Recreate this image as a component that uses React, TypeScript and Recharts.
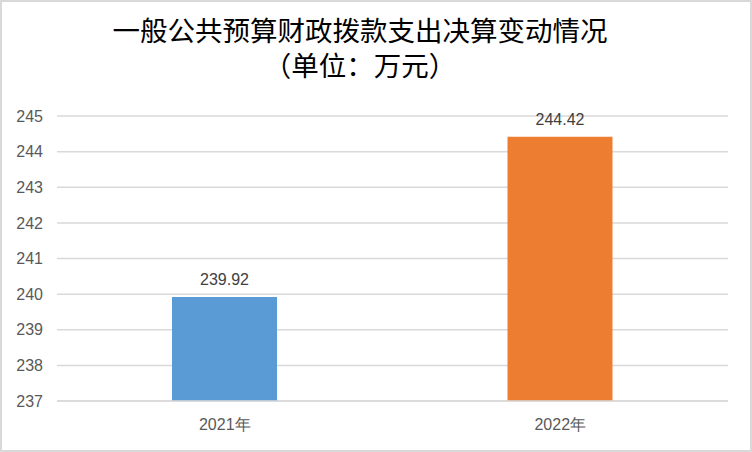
import { Bar, BarChart, CartesianGrid, Cell, LabelList, XAxis, YAxis } from "recharts";

const years = ["2021年", "2022年"];
const amounts = [239.92, 244.42];
const yTicks = [237, 238, 239, 240, 241, 242, 243, 244, 245];

const COLORS = ["#5B9BD5", "#ED7D31"];
const FONT = "'Liberation Sans', Arial, sans-serif";

const data = years.map((year, i) => ({ year, amount: amounts[i] }));

export default function App() {
  return (
    <div
      style={{
        position: "absolute",
        left: 0,
        top: 0,
        width: 752,
        height: 452,
        background: "#fff",
        border: "2px solid #d9d9d9",
        boxSizing: "border-box",
        overflow: "hidden",
      }}
    >
      <div
        style={{
          position: "absolute",
          left: 0,
          top: 10,
          width: 716,
          textAlign: "center",
          fontFamily: "'Noto Sans CJK SC', sans-serif",
          fontSize: 27.5,
          fontWeight: 400,
          lineHeight: "35px",
          color: "#000",
        }}
      >
        <div>一般公共预算财政拨款支出决算变动情况</div>
        <div>（单位：万元）</div>
      </div>
      <div style={{ position: "absolute", left: -2, top: -2 }}>
        <BarChart
          width={752}
          height={452}
          data={data}
          margin={{ top: 116, right: 24, bottom: 21, left: 0 }}
        >
          <CartesianGrid vertical={false} stroke="#d9d9d9" strokeWidth={1.5} />
          <XAxis
            dataKey="year"
            axisLine={{ stroke: "#d9d9d9", strokeWidth: 1.5 }}
            tickLine={false}
            tickMargin={12}
            height={30}
            tick={{ fill: "#595959", fontSize: 16, fontFamily: FONT }}
          />
          <YAxis
            width={57}
            domain={[237, 245]}
            ticks={yTicks}
            allowDataOverflow
            axisLine={false}
            tickLine={false}
            tickMargin={8}
            tick={{ fill: "#595959", fontSize: 16, fontFamily: FONT }}
          />
          <Bar dataKey="amount" barSize={105} isAnimationActive={false}>
            {data.map((d, idx) => (
              <Cell key={d.year} fill={COLORS[idx % COLORS.length]} />
            ))}
            <LabelList
              dataKey="amount"
              position="top"
              offset={12}
              fill="#404040"
              fontSize={16}
              fontFamily={FONT}
            />
          </Bar>
        </BarChart>
      </div>
    </div>
  );
}
